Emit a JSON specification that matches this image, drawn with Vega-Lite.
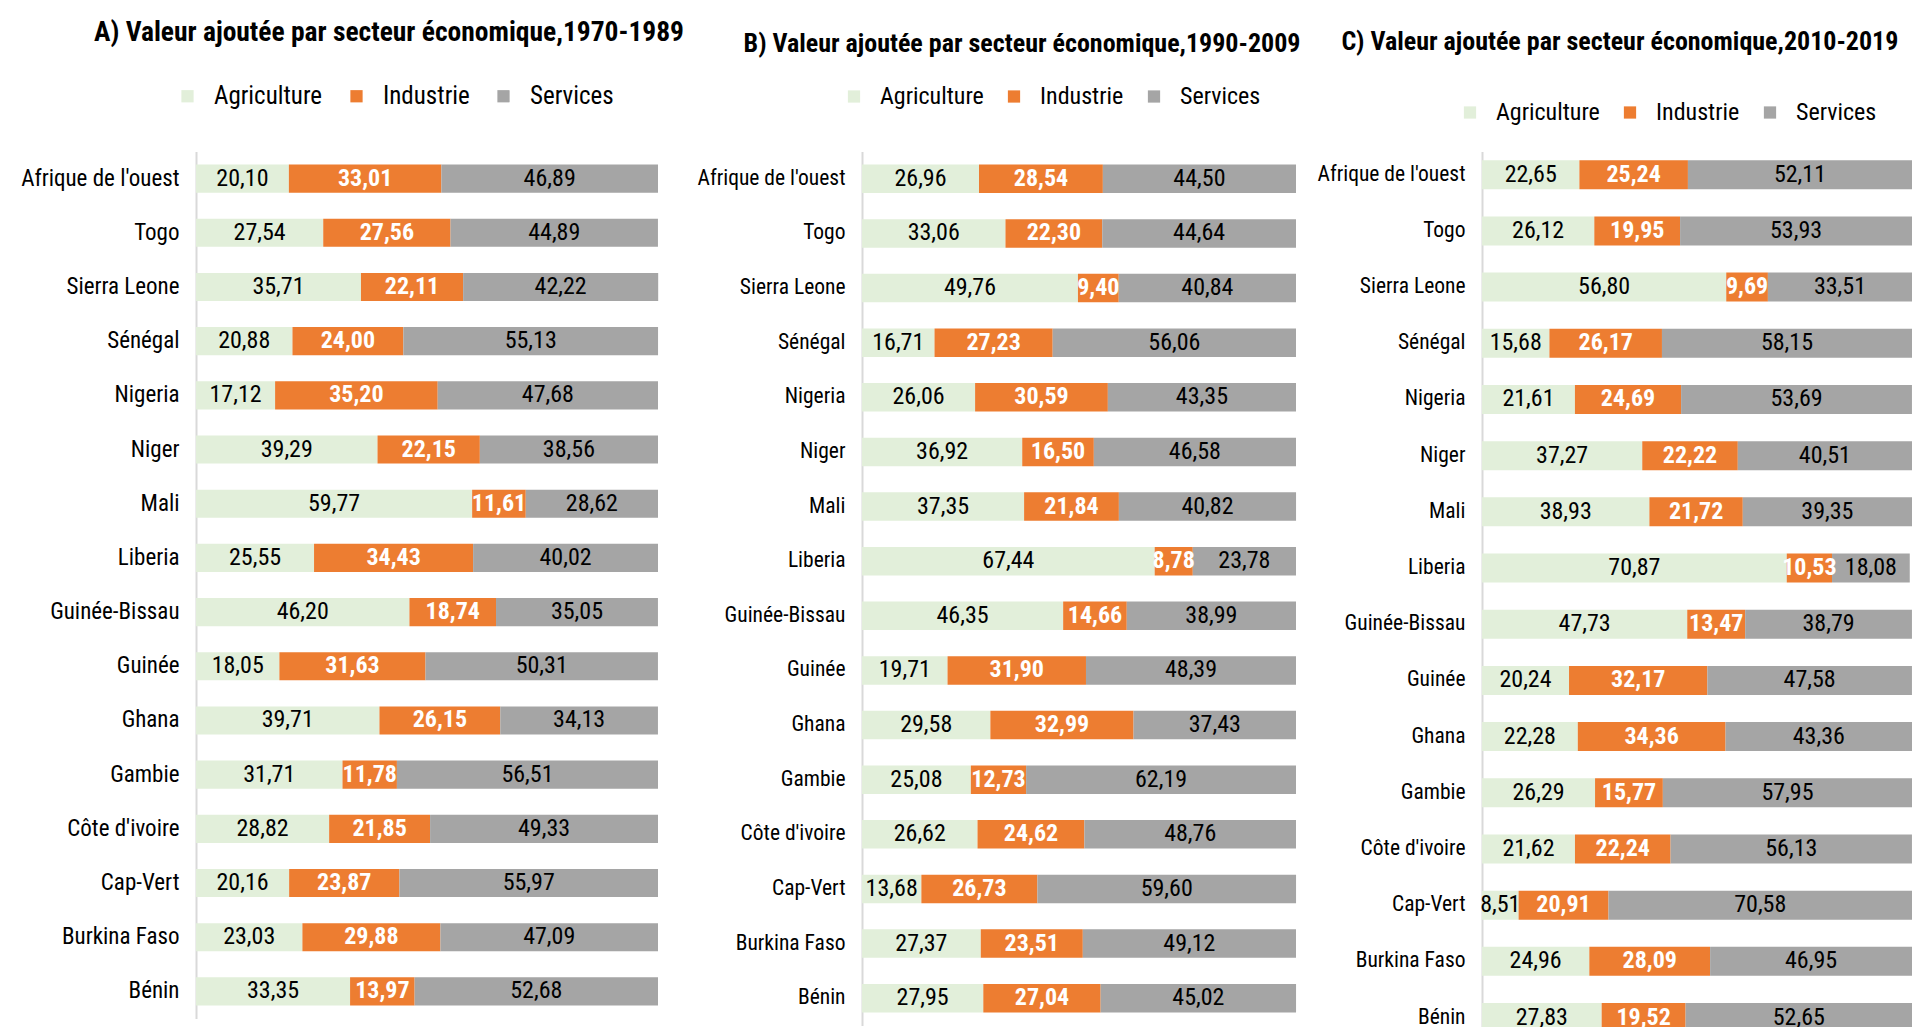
{
  "$schema": "https://vega.github.io/schema/vega-lite/v6.json",
  "autosize": {"type": "pad"},
  "padding": {"left": 20, "top": 18.5, "right": 0, "bottom": 0},
  "background": "white",
  "bounds": "flush",
  "spacing": 204,
  "datasets": {
    "A": [
      {"pays": "Afrique de l'ouest", "Agriculture": 20.10, "Industrie": 33.01, "Services": 46.89},
      {"pays": "Togo", "Agriculture": 27.54, "Industrie": 27.56, "Services": 44.89},
      {"pays": "Sierra Leone", "Agriculture": 35.71, "Industrie": 22.11, "Services": 42.22},
      {"pays": "Sénégal", "Agriculture": 20.88, "Industrie": 24.00, "Services": 55.13},
      {"pays": "Nigeria", "Agriculture": 17.12, "Industrie": 35.20, "Services": 47.68},
      {"pays": "Niger", "Agriculture": 39.29, "Industrie": 22.15, "Services": 38.56},
      {"pays": "Mali", "Agriculture": 59.77, "Industrie": 11.61, "Services": 28.62},
      {"pays": "Liberia", "Agriculture": 25.55, "Industrie": 34.43, "Services": 40.02},
      {"pays": "Guinée-Bissau", "Agriculture": 46.20, "Industrie": 18.74, "Services": 35.05},
      {"pays": "Guinée", "Agriculture": 18.05, "Industrie": 31.63, "Services": 50.31},
      {"pays": "Ghana", "Agriculture": 39.71, "Industrie": 26.15, "Services": 34.13},
      {"pays": "Gambie", "Agriculture": 31.71, "Industrie": 11.78, "Services": 56.51},
      {"pays": "Côte d'ivoire", "Agriculture": 28.82, "Industrie": 21.85, "Services": 49.33},
      {"pays": "Cap-Vert", "Agriculture": 20.16, "Industrie": 23.87, "Services": 55.97},
      {"pays": "Burkina Faso", "Agriculture": 23.03, "Industrie": 29.88, "Services": 47.09},
      {"pays": "Bénin", "Agriculture": 33.35, "Industrie": 13.97, "Services": 52.68}
    ],
    "B": [
      {"pays": "Afrique de l'ouest", "Agriculture": 26.96, "Industrie": 28.54, "Services": 44.50},
      {"pays": "Togo", "Agriculture": 33.06, "Industrie": 22.30, "Services": 44.64},
      {"pays": "Sierra Leone", "Agriculture": 49.76, "Industrie": 9.40, "Services": 40.84},
      {"pays": "Sénégal", "Agriculture": 16.71, "Industrie": 27.23, "Services": 56.06},
      {"pays": "Nigeria", "Agriculture": 26.06, "Industrie": 30.59, "Services": 43.35},
      {"pays": "Niger", "Agriculture": 36.92, "Industrie": 16.50, "Services": 46.58},
      {"pays": "Mali", "Agriculture": 37.35, "Industrie": 21.84, "Services": 40.82},
      {"pays": "Liberia", "Agriculture": 67.44, "Industrie": 8.78, "Services": 23.78},
      {"pays": "Guinée-Bissau", "Agriculture": 46.35, "Industrie": 14.66, "Services": 38.99},
      {"pays": "Guinée", "Agriculture": 19.71, "Industrie": 31.90, "Services": 48.39},
      {"pays": "Ghana", "Agriculture": 29.58, "Industrie": 32.99, "Services": 37.43},
      {"pays": "Gambie", "Agriculture": 25.08, "Industrie": 12.73, "Services": 62.19},
      {"pays": "Côte d'ivoire", "Agriculture": 26.62, "Industrie": 24.62, "Services": 48.76},
      {"pays": "Cap-Vert", "Agriculture": 13.68, "Industrie": 26.73, "Services": 59.60},
      {"pays": "Burkina Faso", "Agriculture": 27.37, "Industrie": 23.51, "Services": 49.12},
      {"pays": "Bénin", "Agriculture": 27.95, "Industrie": 27.04, "Services": 45.02}
    ],
    "C": [
      {"pays": "Afrique de l'ouest", "Agriculture": 22.65, "Industrie": 25.24, "Services": 52.11},
      {"pays": "Togo", "Agriculture": 26.12, "Industrie": 19.95, "Services": 53.93},
      {"pays": "Sierra Leone", "Agriculture": 56.80, "Industrie": 9.69, "Services": 33.51},
      {"pays": "Sénégal", "Agriculture": 15.68, "Industrie": 26.17, "Services": 58.15},
      {"pays": "Nigeria", "Agriculture": 21.61, "Industrie": 24.69, "Services": 53.69},
      {"pays": "Niger", "Agriculture": 37.27, "Industrie": 22.22, "Services": 40.51},
      {"pays": "Mali", "Agriculture": 38.93, "Industrie": 21.72, "Services": 39.35},
      {"pays": "Liberia", "Agriculture": 70.87, "Industrie": 10.53, "Services": 18.08},
      {"pays": "Guinée-Bissau", "Agriculture": 47.73, "Industrie": 13.47, "Services": 38.79},
      {"pays": "Guinée", "Agriculture": 20.24, "Industrie": 32.17, "Services": 47.58},
      {"pays": "Ghana", "Agriculture": 22.28, "Industrie": 34.36, "Services": 43.36},
      {"pays": "Gambie", "Agriculture": 26.29, "Industrie": 15.77, "Services": 57.95},
      {"pays": "Côte d'ivoire", "Agriculture": 21.62, "Industrie": 22.24, "Services": 56.13},
      {"pays": "Cap-Vert", "Agriculture": 8.51, "Industrie": 20.91, "Services": 70.58},
      {"pays": "Burkina Faso", "Agriculture": 24.96, "Industrie": 28.09, "Services": 46.95},
      {"pays": "Bénin", "Agriculture": 27.83, "Industrie": 19.52, "Services": 52.65}
    ]
  },
  "hconcat": [
    {
      "data": {"name": "A"},
      "width": 462,
      "height": 867,
      "title": {"text": "A) Valeur ajoutée par secteur économique,1970-1989", "frame": "group", "anchor": "middle", "dx": -38, "offset": 37.5, "fontSize": 27.5},
      "transform": [
        {"fold": ["Agriculture", "Industrie", "Services"], "as": ["secteur", "valeur"]},
        {"stack": "valeur", "groupby": ["pays"], "sort": [{"field": "secteur", "order": "ascending"}], "as": ["v0", "v1"]},
        {"calculate": "(datum.v0 + datum.v1) / 2", "as": "milieu"}
      ],
      "encoding": {
        "y": {"field": "pays", "type": "nominal", "title": null,
          "sort": ["Afrique de l'ouest", "Togo", "Sierra Leone", "Sénégal", "Nigeria", "Niger", "Mali", "Liberia", "Guinée-Bissau", "Guinée", "Ghana", "Gambie", "Côte d'ivoire", "Cap-Vert", "Burkina Faso", "Bénin"],
          "scale": {"paddingInner": 0.48, "paddingOuter": 0.24},
          "axis": {"labelFontSize": 23}}
      },
      "layer": [
        {"mark": {"type": "bar"},
          "encoding": {
            "x": {"field": "v0", "type": "quantitative", "scale": {"domain": [0, 100]}, "axis": null},
            "x2": {"field": "v1"},
            "color": {"field": "secteur", "type": "nominal",
              "scale": {"domain": ["Agriculture", "Industrie", "Services"], "range": ["#e2efda", "#ed7d31", "#a5a5a5"]},
              "legend": {"orient": "none", "legendX": -21, "legendY": -68, "direction": "horizontal", "title": null, "labelFontSize": 25, "columnPadding": 21}}
          }},
        {"transform": [{"filter": "datum.secteur !== 'Industrie'"}],
          "mark": {"type": "text", "fontSize": 24, "color": "black"},
          "encoding": {"x": {"field": "milieu", "type": "quantitative"}, "text": {"field": "valeur", "type": "quantitative", "format": ".2f"}}},
        {"transform": [{"filter": "datum.secteur === 'Industrie'"}],
          "mark": {"type": "text", "fontSize": 24, "color": "white", "fontWeight": "bold"},
          "encoding": {"x": {"field": "milieu", "type": "quantitative"}, "text": {"field": "valeur", "type": "quantitative", "format": ".2f"}}}
      ]
    },
    {
      "bounds": "flush",
      "spacing": 186,
      "hconcat": [
        {
          "data": {"name": "B"},
          "width": 434,
          "height": 874,
          "title": {"text": "B) Valeur ajoutée par secteur économique,1990-2009", "frame": "group", "anchor": "middle", "dx": -57, "offset": 27.5, "fontSize": 26},
          "transform": [
            {"fold": ["Agriculture", "Industrie", "Services"], "as": ["secteur", "valeur"]},
            {"stack": "valeur", "groupby": ["pays"], "sort": [{"field": "secteur", "order": "ascending"}], "as": ["v0", "v1"]},
            {"calculate": "(datum.v0 + datum.v1) / 2", "as": "milieu"}
          ],
          "encoding": {
            "y": {"field": "pays", "type": "nominal", "title": null,
              "sort": ["Afrique de l'ouest", "Togo", "Sierra Leone", "Sénégal", "Nigeria", "Niger", "Mali", "Liberia", "Guinée-Bissau", "Guinée", "Ghana", "Gambie", "Côte d'ivoire", "Cap-Vert", "Burkina Faso", "Bénin"],
              "scale": {"paddingInner": 0.48, "paddingOuter": 0.24},
              "axis": {"labelFontSize": 21.5}}
          },
          "layer": [
            {"mark": {"type": "bar"},
              "encoding": {
                "x": {"field": "v0", "type": "quantitative", "scale": {"domain": [0, 100]}, "axis": null},
                "x2": {"field": "v1"},
                "color": {"field": "secteur", "type": "nominal",
                  "scale": {"domain": ["Agriculture", "Industrie", "Services"], "range": ["#e2efda", "#ed7d31", "#a5a5a5"]},
                  "legend": {"orient": "none", "legendX": -20, "legendY": -67, "direction": "horizontal", "title": null, "labelFontSize": 24, "columnPadding": 18}}
              }},
            {"transform": [{"filter": "datum.secteur !== 'Industrie'"}],
              "mark": {"type": "text", "fontSize": 24, "color": "black"},
              "encoding": {"x": {"field": "milieu", "type": "quantitative"}, "text": {"field": "valeur", "type": "quantitative", "format": ".2f"}}},
            {"transform": [{"filter": "datum.secteur === 'Industrie'"}],
              "mark": {"type": "text", "fontSize": 24, "color": "white", "fontWeight": "bold"},
              "encoding": {"x": {"field": "milieu", "type": "quantitative"}, "text": {"field": "valeur", "type": "quantitative", "format": ".2f"}}}
          ]
        },
        {
          "data": {"name": "C"},
          "width": 430,
          "height": 899,
          "title": {"text": "C) Valeur ajoutée par secteur économique,2010-2019", "frame": "group", "anchor": "middle", "dx": -77, "offset": 45.5, "fontSize": 26},
          "transform": [
            {"fold": ["Agriculture", "Industrie", "Services"], "as": ["secteur", "valeur"]},
            {"stack": "valeur", "groupby": ["pays"], "sort": [{"field": "secteur", "order": "ascending"}], "as": ["v0", "v1"]},
            {"calculate": "(datum.v0 + datum.v1) / 2", "as": "milieu"}
          ],
          "encoding": {
            "y": {"field": "pays", "type": "nominal", "title": null,
              "sort": ["Afrique de l'ouest", "Togo", "Sierra Leone", "Sénégal", "Nigeria", "Niger", "Mali", "Liberia", "Guinée-Bissau", "Guinée", "Ghana", "Gambie", "Côte d'ivoire", "Cap-Vert", "Burkina Faso", "Bénin"],
              "scale": {"paddingInner": 0.484, "paddingOuter": 0.242, "align": 0.32},
              "axis": {"labelFontSize": 21.5}}
          },
          "layer": [
            {"mark": {"type": "bar"},
              "encoding": {
                "x": {"field": "v0", "type": "quantitative", "scale": {"domain": [0, 100]}, "axis": null},
                "x2": {"field": "v1"},
                "color": {"field": "secteur", "type": "nominal",
                  "scale": {"domain": ["Agriculture", "Industrie", "Services"], "range": ["#e2efda", "#ed7d31", "#a5a5a5"]},
                  "legend": {"orient": "none", "legendX": -24, "legendY": -51, "direction": "horizontal", "title": null, "labelFontSize": 24, "columnPadding": 18}}
              }},
            {"transform": [{"filter": "datum.secteur !== 'Industrie'"}],
              "mark": {"type": "text", "fontSize": 24, "color": "black"},
              "encoding": {"x": {"field": "milieu", "type": "quantitative"}, "text": {"field": "valeur", "type": "quantitative", "format": ".2f"}}},
            {"transform": [{"filter": "datum.secteur === 'Industrie'"}],
              "mark": {"type": "text", "fontSize": 24, "color": "white", "fontWeight": "bold"},
              "encoding": {"x": {"field": "milieu", "type": "quantitative"}, "text": {"field": "valeur", "type": "quantitative", "format": ".2f"}}}
          ]
        }
      ],
      "resolve": {"scale": {"color": "independent", "x": "independent", "y": "independent"}, "legend": {"color": "independent"}}
    }
  ],
  "resolve": {"scale": {"color": "independent", "x": "independent", "y": "independent"}, "legend": {"color": "independent"}},
  "config": {
    "font": "'Roboto Condensed', 'Liberation Sans Narrow', Roboto, sans-serif",
    "locale": {"number": {"decimal": ",", "thousands": " ", "grouping": [3], "currency": ["", " €"]}},
    "view": {"stroke": null},
    "title": {"fontWeight": "bold", "color": "black"},
    "axisY": {"domainColor": "#d9d9d9", "domainWidth": 2, "ticks": false, "labelColor": "black", "labelPadding": 17, "labelLimit": 300, "grid": false},
    "legend": {"symbolType": "square", "symbolSize": 150, "symbolStrokeWidth": 0, "labelColor": "black", "labelOffset": 14}
  }
}
